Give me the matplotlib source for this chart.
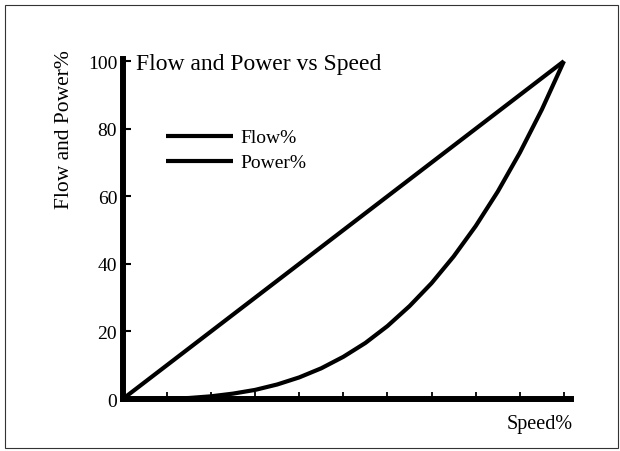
import matplotlib.pyplot as plt
from matplotlib.patches import Rectangle

# values
speed = [0, 5, 10, 15, 20, 25, 30, 35, 40, 45, 50,
         55, 60, 65, 70, 75, 80, 85, 90, 95, 100]
flow = [0, 5, 10, 15, 20, 25, 30, 35, 40, 45, 50,
        55, 60, 65, 70, 75, 80, 85, 90, 95, 100]
power = [0, 0.0, 0.1, 0.3, 0.8, 1.6, 2.7, 4.3, 6.4, 9.1, 12.5,
         16.6, 21.6, 27.5, 34.3, 42.2, 51.2, 61.4, 72.9, 85.7, 100]
x_ticks = [10, 20, 30, 40, 50, 60, 70, 80, 90, 100]
y_ticks = [0, 20, 40, 60, 80, 100]

plt.rcParams['font.family'] = ['Liberation Serif', 'DejaVu Serif']


def main():
    fig = plt.figure(figsize=(6.2, 4.52), dpi=100)
    ax = fig.add_axes([0.198, 0.115, 0.723, 0.752])

    ax.plot(speed, flow, color='black', lw=3, solid_capstyle='butt', label='Flow%')
    ax.plot(speed, power, color='black', lw=3, solid_capstyle='butt', label='Power%')

    ax.set_xlim(0, 101.6)
    ax.set_ylim(0, 100.6)
    ax.set_xticks(x_ticks)
    ax.set_xticklabels([])
    ax.set_yticks(y_ticks)
    ax.tick_params(axis='x', direction='in', length=5, width=1.3)
    ax.tick_params(axis='y', direction='in', length=6, width=1.5,
                   labelsize=14, pad=4)

    for s in ['top', 'right']:
        ax.spines[s].set_visible(False)
    for s in ['left', 'bottom']:
        ax.spines[s].set_linewidth(4.3)

    ax.legend(loc='upper left', bbox_to_anchor=(0.08, 0.818), frameon=False,
              fontsize=14, handlelength=3.4, handletextpad=0.4,
              labelspacing=0.38, borderaxespad=0)

    fig.text(0.22, 0.858, 'Flow and Power vs Speed', fontsize=17,
             ha='left', va='center')
    fig.text(0.104, 0.713, 'Flow and Power%', fontsize=15.5, rotation=90,
             ha='center', va='center')
    fig.text(0.924, 0.06, 'Speed%', fontsize=14.5, ha='right', va='center')

    fig.patches.append(Rectangle((0.008, 0.006), 0.988, 0.98,
                                 transform=fig.transFigure, fill=False,
                                 edgecolor='#333333', lw=0.8))

    fig.savefig('out.png', dpi=100)


if __name__ == "__main__":
    main()
